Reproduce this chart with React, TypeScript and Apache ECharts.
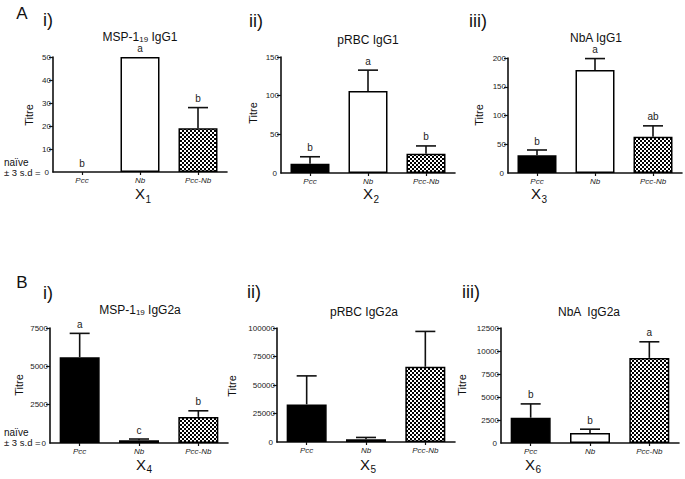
import React, { useEffect, useRef } from "react";
import * as echarts from "echarts";

// ---------- data ----------
const categories = ["Pcc", "Nb", "Pcc-Nb"];

const a1Means = [0, 50, 19];
const a1Errs = [0, 0, 9];
const a1Letters = ["b", "a", "b"];

const a2Means = [12, 106, 25];
const a2Errs = [9, 27, 10];
const a2Letters = ["b", "a", "b"];

const a3Means = [31, 179, 63];
const a3Errs = [9, 20, 19];
const a3Letters = ["b", "a", "ab"];

const b1Means = [5600, 180, 1700];
const b1Errs = [1550, 80, 400];
const b1Letters = ["a", "c", "b"];

const b2Means = [33000, 2500, 66000];
const b2Errs = [25000, 1500, 31000];
const b2Letters = ["", "", ""];

const b3Means = [2750, 1100, 9250];
const b3Errs = [1500, 400, 1750];
const b3Letters = ["b", "b", "a"];

const yMaxes = [50, 150, 200, 7500, 100000, 12500];
const yIntervals = [10, 50, 50, 2500, 25000, 2500];
const yZeroLabel = "0";

const titleMain = ["MSP-1", "pRBC IgG1", "NbA IgG1", "MSP-1", "pRBC IgG2a", "NbA  IgG2a"];
const titleSub = ["19", "", "", "19", "", ""];
const titleTail = [" IgG1", "", "", " IgG2a", "", ""];
const numerals = ["i)", "ii)", "iii)", "i)", "ii)", "iii)"];
const xSubs = ["1", "2", "3", "4", "5", "6"];
const sectionLetters = ["A", "B"];

// ---------- layout ----------
const gridLeft = [53, 281, 508, 50, 277, 501];
const gridTop = [57, 57, 58, 328, 328, 328];
const gridWidth = [174, 174, 174, 178, 178, 178];
const gridHeight = [115, 116, 115, 115, 114, 115];
const barWidths = [39, 39, 39, 40, 40, 40];
const titlePos = [[140, 37], [368, 40], [596, 38], [140, 310], [364, 312], [589, 312]];
const numeralPos = [[48, 20], [256, 21], [478, 21], [48, 293], [254, 292], [471, 292]];
const titrePos = [[29, 115], [253, 113], [479, 115], [19, 385], [232, 386], [462, 385]];
const xLabelPos = [[143, 193.5], [371, 193.5], [539, 193.5], [144, 464], [368, 464], [533, 464]];
const sectionPos = [[22, 13], [22, 282]];
const naivePos = [[4, 162.5, 172.5], [4, 432.5, 442.5]];

const FONT = "Arial, 'Liberation Sans', Helvetica, sans-serif";
const NARROW = "'Liberation Sans Narrow', 'Arial Narrow', Arial, 'Liberation Sans', sans-serif";

export default function App() {
  const ref = useRef<HTMLDivElement>(null);

  useEffect(() => {
    if (!ref.current) return;
    const chart = echarts.init(ref.current, undefined, { renderer: "svg" });

    const c = document.createElement("canvas");
    c.width = 4;
    c.height = 4;
    const ctx = c.getContext("2d")!;
    ctx.fillStyle = "#fff";
    ctx.fillRect(0, 0, 4, 4);
    ctx.fillStyle = "#000";
    ctx.fillRect(0, 0, 2, 2);
    ctx.fillRect(2, 2, 2, 2);
    const checker: any = { image: c, repeat: "repeat", imageWidth: 4, imageHeight: 4 };
    const fills: any[] = ["#000", "#fff", checker];

    const means = [a1Means, a2Means, a3Means, b1Means, b2Means, b3Means];
    const errs = [a1Errs, a2Errs, a3Errs, b1Errs, b2Errs, b3Errs];
    const letters = [a1Letters, a2Letters, a3Letters, b1Letters, b2Letters, b3Letters];

    const grids: any[] = [];
    const xAxes: any[] = [];
    const yAxes: any[] = [];
    const series: any[] = [];
    const graphics: any[] = [];

    for (let p = 0; p < 6; p++) {
      grids.push({ left: gridLeft[p], top: gridTop[p], width: gridWidth[p], height: gridHeight[p], containLabel: false });
      xAxes.push({
        type: "category",
        gridIndex: p,
        data: categories,
        axisLine: { lineStyle: { color: "#111", width: 1.6 } },
        axisTick: { show: true, alignWithLabel: true, length: 3, lineStyle: { color: "#111", width: 1.2 } },
        axisLabel: { fontStyle: "italic", fontSize: 8, lineHeight: 8, color: "#222", margin: 4, fontFamily: NARROW },
        splitLine: { show: false },
      });
      yAxes.push({
        type: "value",
        gridIndex: p,
        min: 0,
        max: yMaxes[p],
        interval: yIntervals[p],
        axisLine: { show: true, lineStyle: { color: "#111", width: 1.6 } },
        axisTick: { show: true, length: 4, lineStyle: { color: "#111", width: 1.2 } },
        axisLabel: {
          fontSize: 8,
          color: "#222",
          margin: 2,
          fontFamily: NARROW,
          showMinLabel: false,
          showMaxLabel: true,
          formatter: (v: number) => String(v),
        },
        splitLine: { show: false },
      });
      series.push({
        type: "bar",
        xAxisIndex: p,
        yAxisIndex: p,
        barWidth: barWidths[p],
        data: means[p].map((m, i) => ({
          value: m,
          itemStyle: { color: fills[i], borderColor: "#000", borderWidth: m > 0 ? 1.5 : 0 },
        })),
        z: 2,
      });
      const lets = letters[p];
      series.push({
        type: "custom",
        xAxisIndex: p,
        yAxisIndex: p,
        clip: false,
        z: 5,
        encode: { x: 0, y: 1 },
        data: means[p].map((m, i) => [i, m, errs[p][i]]),
        renderItem: (params: any, api: any) => {
          const idx = api.value(0);
          const mean = api.value(1);
          const err = api.value(2);
          const base = api.coord([idx, mean]);
          const top = api.coord([idx, mean + err]);
          const children: any[] = [];
          const ls = { stroke: "#111", lineWidth: 1.6 };
          if (err > 0) {
            children.push({ type: "line", shape: { x1: base[0], y1: base[1], x2: top[0], y2: top[1] }, style: ls });
            children.push({ type: "line", shape: { x1: top[0] - 10, y1: top[1], x2: top[0] + 10, y2: top[1] }, style: ls });
          }
          const l = lets[params.dataIndex];
          if (l) {
            children.push({
              type: "text",
              style: { text: l, x: top[0], y: top[1] - 9, align: "center", verticalAlign: "middle", fontSize: 10, lineHeight: 9, fill: "#222", fontFamily: FONT },
            });
          }
          return { type: "group", children };
        },
      });

      // title
      graphics.push({
        type: "text",
        x: titlePos[p][0],
        y: titlePos[p][1],
        style: {
          text: titleSub[p] ? `{m|${titleMain[p]}}{s|${titleSub[p]}}{m|${titleTail[p]}}` : `{m|${titleMain[p]}}`,
          align: "center",
          verticalAlign: "middle",
          fill: "#111",
          fontFamily: FONT,
          fontSize: 12,
          rich: {
            m: { fontSize: 12, fontFamily: FONT, fill: "#111", lineHeight: 12, verticalAlign: "middle" },
            s: { fontSize: 8, fontFamily: FONT, fill: "#111", lineHeight: 6, verticalAlign: "bottom" },
          },
        },
      });
      // numeral
      graphics.push({
        type: "text",
        x: numeralPos[p][0],
        y: numeralPos[p][1],
        style: { text: numerals[p], align: "center", verticalAlign: "middle", fontSize: 18, fontFamily: FONT, fill: "#111" },
      });
      // Titre
      graphics.push({
        type: "text",
        x: titrePos[p][0],
        y: titrePos[p][1],
        rotation: Math.PI / 2,
        style: { text: "Titre", align: "center", verticalAlign: "middle", fontSize: 11, fontFamily: FONT, fill: "#111" },
      });
      // X label with subscript
      graphics.push({
        type: "text",
        x: xLabelPos[p][0] - 3,
        y: xLabelPos[p][1],
        style: { text: "X", align: "center", verticalAlign: "middle", fontSize: 15, lineHeight: 12, fontFamily: FONT, fill: "#111" },
      });
      graphics.push({
        type: "text",
        x: xLabelPos[p][0] + 2.5,
        y: xLabelPos[p][1] + 5.5,
        style: { text: xSubs[p], align: "left", verticalAlign: "middle", fontSize: 10, lineHeight: 8, fontFamily: FONT, fill: "#111" },
      });
    }

    for (let s = 0; s < 2; s++) {
      graphics.push({
        type: "text",
        x: sectionPos[s][0],
        y: sectionPos[s][1],
        style: { text: sectionLetters[s], align: "center", verticalAlign: "middle", fontSize: 17, fontFamily: FONT, fill: "#111" },
      });
      graphics.push({
        type: "text",
        x: naivePos[s][0],
        y: naivePos[s][1],
        style: { text: "naïve", align: "left", verticalAlign: "middle", fontSize: 10, lineHeight: 8, fontFamily: FONT, fill: "#111" },
      });
      graphics.push({
        type: "text",
        x: naivePos[s][0],
        y: naivePos[s][2],
        style: { text: "± 3 s.d =", align: "left", verticalAlign: "middle", fontSize: 9.5, lineHeight: 8, fontFamily: FONT, fill: "#111" },
      });
    }

    chart.setOption({
      animation: false,
      backgroundColor: "#fff",
      grid: grids,
      xAxis: xAxes,
      yAxis: yAxes,
      series,
      graphic: { elements: graphics },
    });

    // zero tick labels placed through the library's own scale
    const zeros: any[] = [];
    for (let p = 0; p < 6; p++) {
      const pt = chart.convertToPixel({ gridIndex: p } as any, [0, 0]) as number[];
      zeros.push({
        type: "text",
        x: gridLeft[p] - 4,
        y: pt[1],
        style: { text: yZeroLabel, align: "right", verticalAlign: "middle", fontSize: 8, lineHeight: 8, fontFamily: NARROW, fill: "#222" },
      });
    }
    chart.setOption({ graphic: { elements: [...graphics, ...zeros] } });

    return () => chart.dispose();
  }, []);

  return <div ref={ref} style={{ position: "absolute", left: 0, top: 0, width: 685, height: 479, background: "#fff" }} />;
}
